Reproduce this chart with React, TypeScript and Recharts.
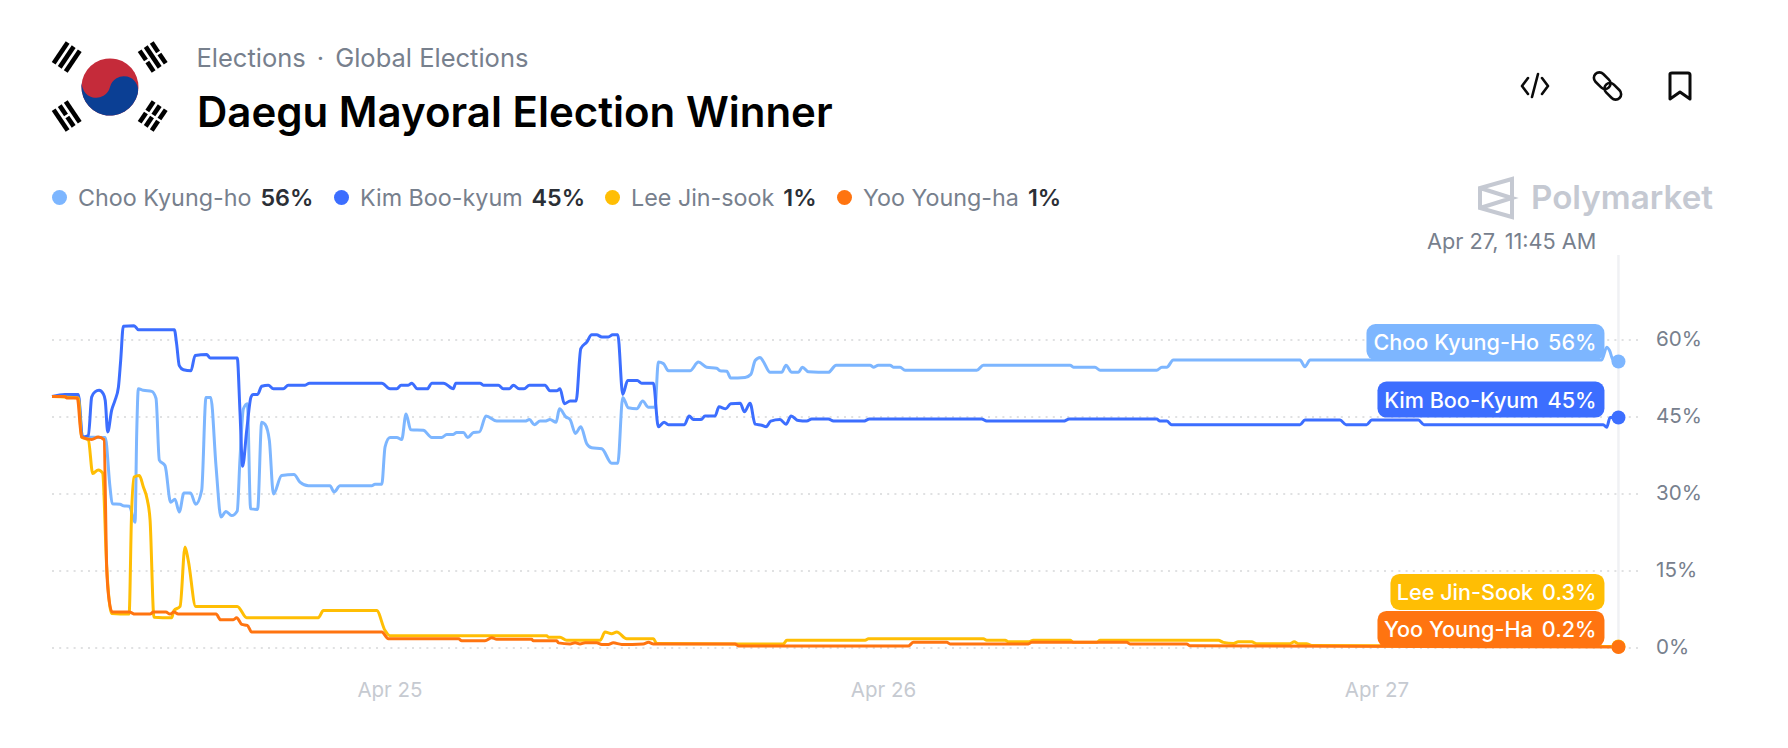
import { LineChart, Line, XAxis, YAxis, CartesianGrid, ReferenceLine } from "recharts";

// hours since Apr 25 00:00, price in %
const chooPoints = [
  [-16.44, 49], [-15.16, 49], [-14.96, 41.1], [-13.85, 41], [-13.62, 31.4], [-13.51, 28.1], [-13.13, 28], [-12.97, 27.7],
  [-12.68, 27.6], [-12.40, 24.5], [-12.32, 41.8], [-12.24, 50.5], [-12, 50.2], [-11.59, 50], [-11.38, 48.6], [-11.22, 36.6],
  [-10.94, 35.5], [-10.67, 28.4], [-10.46, 29], [-10.25, 26.5], [-10.02, 30.2], [-9.70, 30.2], [-9.45, 28], [-9.16, 30.7],
  [-8.95, 48.8], [-8.72, 48.8], [-8.46, 35.3], [-8.22, 25.5], [-7.98, 26.6], [-7.70, 25.8], [-7.43, 26.7], [-7.30, 36.6],
  [-7.13, 46.6], [-6.94, 47.6], [-6.78, 27.1], [-6.44, 27], [-6.24, 44], [-6.08, 43.6], [-5.87, 40.5], [-5.67, 30],
  [-5.27, 33.6], [-4.67, 33.8], [-4.38, 32.3], [-3.97, 31.6], [-2.92, 31.6], [-2.72, 30.4], [-2.43, 31.6], [-0.89, 31.6],
  [-0.73, 31.9], [-0.40, 31.9], [-0.24, 39.2], [0, 41], [0.33, 41], [0.57, 40.6], [0.78, 45.6], [1.01, 42.5], [1.62, 42.4],
  [2.03, 41], [2.51, 41], [2.76, 41.6], [3.08, 41.6], [3.24, 42], [3.57, 42], [3.78, 41], [4.06, 42], [4.35, 42.1],
  [4.67, 45.2], [5.19, 44.2], [6.57, 44.2], [6.78, 44.5], [7.02, 43.5], [7.30, 44.2], [7.54, 44.2], [7.78, 44.5], [8.08, 44],
  [8.24, 46.6], [8.56, 45], [8.76, 44.5], [9.02, 41.8], [9.28, 43.1], [9.57, 39.8], [9.81, 39], [10.30, 38.8], [10.78, 36],
  [11.08, 36], [11.32, 48.8], [11.59, 46.8], [12, 46.6], [12.29, 48.1], [12.57, 46.9], [12.89, 46.9], [13.05, 55.7],
  [13.30, 55.4], [13.54, 54], [14.59, 54], [15, 55.7], [15.40, 54.7], [15.89, 54.5], [16.05, 54], [16.38, 53.9], [16.57, 52.6],
  [17.27, 52.7], [17.55, 53.3], [17.76, 56], [18, 56.6], [18.16, 55.8], [18.49, 53.7], [19.05, 53.7], [19.26, 55.1],
  [19.54, 53.7], [19.86, 53.7], [20.06, 54.7], [20.35, 53.8], [21.32, 53.7], [21.70, 55.1], [23.35, 55.1], [23.51, 54.7],
  [23.75, 55.1], [24.32, 55.1], [24.48, 54.7], [24.81, 54.7], [25.05, 54.1], [28.54, 54.1], [28.86, 55.1], [33.08, 55.1],
  [33.24, 54.7], [34.29, 54.7], [34.54, 54.1], [37.29, 54.1], [37.54, 54.7], [37.78, 54.7], [38.10, 56.1], [44.26, 56.1],
  [44.50, 54.8], [44.75, 56.1], [58.93, 56.1], [59.18, 58.6], [59.31, 58], [59.50, 56], [59.75, 55.8],
];

const kimPoints = [
  [-16.44, 49], [-15.81, 49.4], [-15.16, 49.4], [-14.96, 41.1], [-14.67, 41.4], [-14.51, 48.9], [-14.35, 49.9], [-14.15, 50.2],
  [-13.94, 49.5], [-13.85, 48.2], [-13.73, 42.1], [-13.54, 46.3], [-13.38, 48.2], [-13.21, 50.8], [-13.10, 56], [-12.97, 62.7],
  [-12.45, 62.8], [-12.24, 62], [-10.49, 62], [-10.38, 59.3], [-10.25, 55], [-10.05, 54.2], [-9.68, 54], [-9.48, 57],
  [-8.92, 57.2], [-8.75, 56.5], [-7.43, 56.5], [-7.30, 46.3], [-7.17, 35.4], [-6.97, 42.4], [-6.76, 48.9], [-6.65, 49.4],
  [-6.44, 49.4], [-6.24, 51], [-5.92, 51.2], [-5.67, 50.5], [-5.19, 50.5], [-4.95, 51.2], [-4.13, 51.2], [-3.92, 51.6],
  [-0.40, 51.6], [0, 50.5], [0.33, 50.5], [0.54, 51.2], [0.89, 51.2], [1.06, 51.6], [1.33, 50.5], [1.82, 50.5], [2.03, 51.6],
  [2.60, 51.6], [3.08, 50.5], [3.20, 51.6], [4.38, 51.6], [4.54, 51.2], [5.27, 51.2], [5.51, 50.5], [5.81, 50.5], [6.00, 51.2],
  [6.28, 50.5], [6.52, 50.5], [6.78, 51.2], [7.54, 51.2], [7.78, 50.1], [8.11, 50.1], [8.27, 50.5], [8.48, 47.6], [8.76, 48.1],
  [9.05, 48.1], [9.28, 58.3], [9.57, 59.6], [9.81, 61], [10.05, 61], [10.30, 60.6], [10.62, 60.6], [10.83, 61], [11.08, 61],
  [11.32, 49.4], [11.56, 52.1], [12.03, 52.1], [12.24, 51.6], [12.81, 51.6], [13.05, 43.1], [13.33, 44], [13.54, 43.5],
  [14.32, 43.5], [14.55, 45.2], [14.76, 44.5], [15.13, 44.5], [15.32, 45.2], [15.81, 45.2], [16.00, 47], [16.33, 46.6],
  [16.57, 47.6], [17.03, 47.7], [17.24, 46], [17.51, 47.7], [17.76, 43.6], [18.08, 43.4], [18.29, 43.1], [18.52, 44.2],
  [18.97, 44.5], [19.26, 43.6], [19.51, 45.2], [19.86, 44.3], [20.27, 44.2], [20.51, 44.6], [21.32, 44.6], [21.57, 44.2],
  [23.03, 44.2], [23.32, 44.6], [28.78, 44.6], [29.02, 44.2], [32.75, 44.2], [33.04, 44.6], [37.29, 44.6], [37.45, 44.2],
  [37.78, 44.2], [38.02, 43.5], [44.26, 43.5], [44.50, 44.4], [46.21, 44.4], [46.50, 43.5], [47.50, 43.5], [47.75, 44.4],
  [50.02, 44.4], [50.29, 43.5], [59.01, 43.5], [59.18, 43], [59.34, 44.9], [59.75, 44.9],
];

const leePoints = [
  [-16.44, 49], [-15.16, 48.7], [-15.00, 41.1], [-14.67, 40.5], [-14.46, 34], [-14.19, 34.7], [-13.98, 34.1], [-13.78, 15.8],
  [-13.54, 6.7], [-12.69, 6.6], [-12.57, 26.2], [-12.45, 33.3], [-12.19, 33.6], [-12, 31.4], [-11.80, 28.8], [-11.67, 24.9],
  [-11.48, 6], [-10.62, 5.9], [-10.51, 7.3], [-10.21, 8.1], [-9.97, 19.7], [-9.81, 17], [-9.45, 8.1], [-7.43, 8.1], [-6.97, 5.9],
  [-3.49, 5.9], [-3.24, 7.3], [-0.65, 7.3], [-0.24, 3.4], [0, 2.4], [7.62, 2.4], [7.70, 2.1], [8.27, 2.1], [8.59, 1.5],
  [10.22, 1.5], [10.46, 3.1], [10.78, 2.8], [11.03, 3.1], [11.51, 1.8], [12.81, 1.8], [12.97, 0.9], [16.95, 0.8], [19.13, 0.8],
  [19.30, 1.5], [23.11, 1.5], [23.27, 1.8], [28.86, 1.8], [29.02, 1.5], [29.92, 1.5], [30.08, 1.2], [31.05, 1.2], [31.29, 1.5],
  [33.08, 1.5], [33.24, 1.1], [34.37, 1.1], [34.54, 1.5], [40.29, 1.5], [40.53, 1.1], [41.02, 0.9], [41.26, 1.2], [41.91, 1.2],
  [42.15, 0.85], [43.77, 0.85], [43.98, 1.2], [44.18, 0.85], [44.58, 0.85], [44.83, 0.5], [59.75, 0.3],
];

const yooPoints = [
  [-16.44, 49], [-15.81, 49], [-15.73, 48.7], [-15.21, 48.7], [-15.00, 41.1], [-14.51, 40.6], [-14.19, 41.1], [-13.91, 40.6],
  [-13.78, 15.8], [-13.70, 10.6], [-13.51, 7], [-12.68, 7], [-12.40, 6.6], [-11.67, 6.6], [-11.51, 7], [-10.90, 7], [-10.70, 6.6],
  [-10.51, 7], [-10.30, 6.6], [-8.46, 6.6], [-8.24, 5.5], [-7.62, 5.5], [-7.46, 5.9], [-7.21, 4.6], [-6.94, 4.4], [-6.73, 3.1],
  [-0.40, 3.1], [-0.08, 1.8], [3.33, 1.8], [3.49, 1.4], [4.62, 1.4], [4.95, 2], [5.19, 1.7], [6.89, 1.7], [6.97, 1.4], [8.11, 1.4],
  [8.19, 1], [8.76, 0.8], [9, 1], [9.24, 0.8], [9.49, 1], [10.05, 1], [10.30, 0.7], [10.62, 0.7], [10.86, 1], [11.27, 0.7],
  [12.32, 0.8], [12.57, 1.1], [12.81, 0.8], [16.78, 0.8], [16.95, 0.4], [25.21, 0.4], [25.46, 1.1], [27.08, 1.1], [27.24, 0.8],
  [31.05, 0.8], [31.21, 1.1], [35.83, 1.1], [35.99, 0.8], [38.75, 0.8], [38.91, 0.45], [59.75, 0.2],
];

const seriesNames = ["Choo Kyung-ho", "Kim Boo-kyum", "Lee Jin-sook", "Yoo Young-ha"];
const tagNames = ["Choo Kyung-Ho", "Kim Boo-Kyum", "Lee Jin-Sook", "Yoo Young-Ha"];
const legendValues = ["56%", "45%", "1%", "1%"];
const tagValues = ["56%", "45%", "0.3%", "0.2%"];
const xTicks = [0, 24, 48];
const xTickLabels = ["Apr 25", "Apr 26", "Apr 27"];
const yTicks = [0, 15, 30, 45, 60];

const allPoints = [chooPoints, kimPoints, leePoints, yooPoints];
const colors = ["#7DB6FF", "#3C6EFF", "#FFBE04", "#FF7410"];
// left edge of each legend item, tag width, how far the tag bottom sits above its point
const legendLeft = [52, 334, 605, 837];
const tagWidth = [238, 227, 214, 227];
const tagLift = [1.5, 0, 36.5, 0];

const GRAY = "#77808D";
const FONT = "Inter, sans-serif";

function endMarker(seriesIndex: number, lastIndex: number) {
  return (p: any) => {
    if (p.index !== lastIndex) return <g key={p.index} />;
    const color = colors[seriesIndex];
    const right = p.cx - 14;
    const bottom = p.cy - tagLift[seriesIndex];
    return (
      <g key={p.index}>
        <circle cx={p.cx} cy={p.cy} r={7} fill={color} />
        <rect x={right - tagWidth[seriesIndex]} y={bottom - 36} width={tagWidth[seriesIndex]} height={36} rx={9} fill={color} />
        <text x={right - 8} y={bottom - 10} textAnchor="end" fill="#fff" fontSize={21.6} fontWeight={500} fontFamily={FONT}>
          {tagNames[seriesIndex]}
          <tspan dx={9}>{tagValues[seriesIndex]}</tspan>
        </text>
      </g>
    );
  };
}

function Flag() {
  const r = 28.5;
  const trigrams = [
    { x: 66.7, y: 57, a: -56, gaps: [false, false, false] },
    { x: 152.7, y: 57, a: 56, gaps: [true, false, true] },
    { x: 66.7, y: 116, a: 56, gaps: [false, true, false] },
    { x: 152.7, y: 116, a: -56, gaps: [true, true, true] },
  ];
  return (
    <svg width={220} height={160} style={{ position: "absolute", left: 0, top: 0 }}>
      <g transform="translate(110 87) rotate(14)">
        <circle r={r} fill="#C52B3A" />
        <path d={`M ${-r} 0 A ${r / 2} ${r / 2} 0 0 0 0 0 A ${r / 2} ${r / 2} 0 0 1 ${r} 0 A ${r} ${r} 0 0 1 ${-r} 0 Z`} fill="#0B3F94" />
      </g>
      {trigrams.map((t, i) => (
        <g key={i} transform={`translate(${t.x} ${t.y}) rotate(${t.a})`}>
          {t.gaps.map((gap, j) =>
            gap ? (
              <g key={j}>
                <rect x={-12.5} y={-7.3 * (j - 1) - 2.3} width={11.3} height={4.6} fill="#000" />
                <rect x={1.2} y={-7.3 * (j - 1) - 2.3} width={11.3} height={4.6} fill="#000" />
              </g>
            ) : (
              <rect key={j} x={-12.5} y={-7.3 * (j - 1) - 2.3} width={25} height={4.6} fill="#000" />
            )
          )}
        </g>
      ))}
    </svg>
  );
}

function Icons() {
  return (
    <svg width={1788} height={240} style={{ position: "absolute", left: 0, top: 0, pointerEvents: "none" }}>
      <g fill="none" stroke="#0b0b0b" strokeWidth={2.6} strokeLinecap="round" strokeLinejoin="round">
        {/* code */}
        <path d="M1528 78 L1522 86 L1528 94 M1542 78 L1548 86 L1542 94 M1538 74 L1532 97" />
        {/* link */}
        <g transform="translate(1607.5 86) rotate(45)">
          <rect x={-17} y={-5.5} width={19} height={11} rx={5.5} />
          <rect x={-2} y={-5.5} width={19} height={11} rx={5.5} />
        </g>
        {/* bookmark */}
        <path d="M1670 74 Q1670 73 1672 73 H1688 Q1690 73 1690 75 V99 L1680 92 L1670 99 Z" strokeWidth={3} />
      </g>
      {/* logo */}
      <g fill="none" stroke="#C5C9D2" strokeWidth={4} strokeLinejoin="miter">
        <path d="M1512 179 L1480 188 V208 L1512 217 Z M1480 188 L1512 198 L1480 208" />
      </g>
      <text x={1531} y={209} fontSize={33.2} fontWeight={600} fill="#C5C9D2" fontFamily={FONT}>Polymarket</text>
    </svg>
  );
}

export default function App() {
  return (
    <div style={{ position: "absolute", left: 0, top: 0, width: 1788, height: 748, background: "#fff", fontFamily: FONT, overflow: "hidden" }}>
      <LineChart width={1788} height={748} margin={{ top: 255, right: 0, bottom: 0, left: 52 }}>
        <CartesianGrid horizontal vertical={false} horizontalValues={yTicks} stroke="#D6D7D9" strokeWidth={1.6} strokeDasharray="2 5.2" />
        <XAxis
          dataKey="h" type="number" domain={[-16.44, 60.7]} ticks={xTicks} height={100} interval={0}
          allowDuplicatedCategory={false} axisLine={false} tickLine={false}
          tick={{ fontSize: 20.5, fill: "#C6CAD1", dy: 26 }}
          tickFormatter={(h: number) => xTickLabels[xTicks.indexOf(h)]}
        />
        <YAxis
          orientation="right" type="number" domain={[0, 76.56]} ticks={yTicks} width={150} interval={0}
          axisLine={false} tickLine={false} tickMargin={0}
          tick={{ fontSize: 20.6, fill: GRAY, dx: 12, dy: -1.7 }}
          tickFormatter={(v: number) => `${v}%`}
        />
        <ReferenceLine x={59.75} stroke="#F0F1F4" strokeWidth={2.5} />
        {allPoints.map((pts, i) => (
          <Line
            key={seriesNames[i]} data={pts.map(([h, v]) => ({ h, v }))} dataKey="v" name={seriesNames[i]} type="monotone"
            stroke={colors[i]} strokeWidth={3} isAnimationActive={false} activeDot={false}
            dot={endMarker(i, pts.length - 1)}
          />
        ))}
      </LineChart>

      <Flag />
      <Icons />

      <div style={{ position: "absolute", left: 196.5, top: 42, fontSize: 25.5, lineHeight: "31px", color: GRAY, whiteSpace: "pre" }}>
        Elections<span style={{ margin: "0 11px" }}>·</span>Global Elections
      </div>
      <div style={{ position: "absolute", left: 197, top: 85, fontSize: 42, lineHeight: "54px", fontWeight: 600, color: "#000", whiteSpace: "pre" }}>
        Daegu Mayoral Election Winner
      </div>

      {seriesNames.map((name, i) => (
        <div key={name} style={{ position: "absolute", left: legendLeft[i], top: 184, height: 27, display: "flex", alignItems: "center", fontSize: 23.3, whiteSpace: "pre" }}>
          <span style={{ width: 15, height: 15, borderRadius: "50%", background: colors[i], marginRight: 11 }} />
          <span style={{ color: GRAY }}>{name}</span>
          <span style={{ color: "#2B2F36", fontWeight: 600, marginLeft: 9 }}>{legendValues[i]}</span>
        </div>
      ))}

      <div style={{ position: "absolute", left: 1427, top: 228, fontSize: 21.7, lineHeight: "26px", color: GRAY, whiteSpace: "pre" }}>
        Apr 27, 11:45 AM
      </div>
    </div>
  );
}
